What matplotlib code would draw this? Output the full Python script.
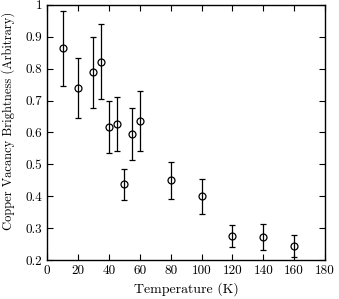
import numpy as np
import matplotlib
matplotlib.use("Agg")
import matplotlib.pyplot as plt

# Data
temps = [10, 20, 30, 35, 40, 45, 50, 55, 60, 80, 100, 120, 140, 160]
bright = [0.864, 0.740, 0.788, 0.822, 0.617, 0.627, 0.438, 0.595, 0.636, 0.450, 0.400, 0.275, 0.272, 0.245]
err_lo = [0.118, 0.094, 0.112, 0.117, 0.082, 0.086, 0.050, 0.082, 0.095, 0.060, 0.055, 0.034, 0.039, 0.035]
err_hi = [0.116, 0.094, 0.112, 0.117, 0.083, 0.085, 0.049, 0.081, 0.095, 0.058, 0.055, 0.035, 0.040, 0.035]

xticks = [0, 20, 40, 60, 80, 100, 120, 140, 160, 180]
yticks = [0.2, 0.3, 0.4, 0.5, 0.6, 0.7, 0.8, 0.9, 1.0]
ytick_labels = ['0.2', '0.3', '0.4', '0.5', '0.6', '0.7', '0.8', '0.9', '1']

plt.rcParams['font.family'] = 'serif'
plt.rcParams['font.serif'] = ['cmr10', 'DejaVu Serif']
plt.rcParams['mathtext.fontset'] = 'cm'
plt.rcParams['axes.formatter.use_mathtext'] = True

fig = plt.figure(figsize=(3.39, 2.99), dpi=100)
ax = fig.add_axes([0.139, 0.130, 0.820, 0.854])

ax.errorbar(temps, bright, yerr=[err_lo, err_hi], fmt='o', color='black',
            markerfacecolor='none', markersize=5, markeredgewidth=0.9,
            elinewidth=0.9, capsize=2.5, capthick=0.9)

ax.set_xlim(0, 180)
ax.set_ylim(0.2, 1.0)
ax.set_xticks(xticks)
ax.set_yticks(yticks)
ax.set_xticklabels([str(t) for t in xticks])
ax.set_yticklabels(ytick_labels)
ax.tick_params(direction='in', top=True, right=True, labelsize=9.5, length=4, width=0.8)
for s in ax.spines.values():
    s.set_linewidth(1.0)

ax.set_xlabel('Temperature (K)', fontsize=10)
ax.set_ylabel('Copper Vacancy Brightness (Arbitrary)', fontsize=9)
ax.yaxis.set_label_coords(-0.115, 0.545)

fig.savefig('out.png', dpi=100)
